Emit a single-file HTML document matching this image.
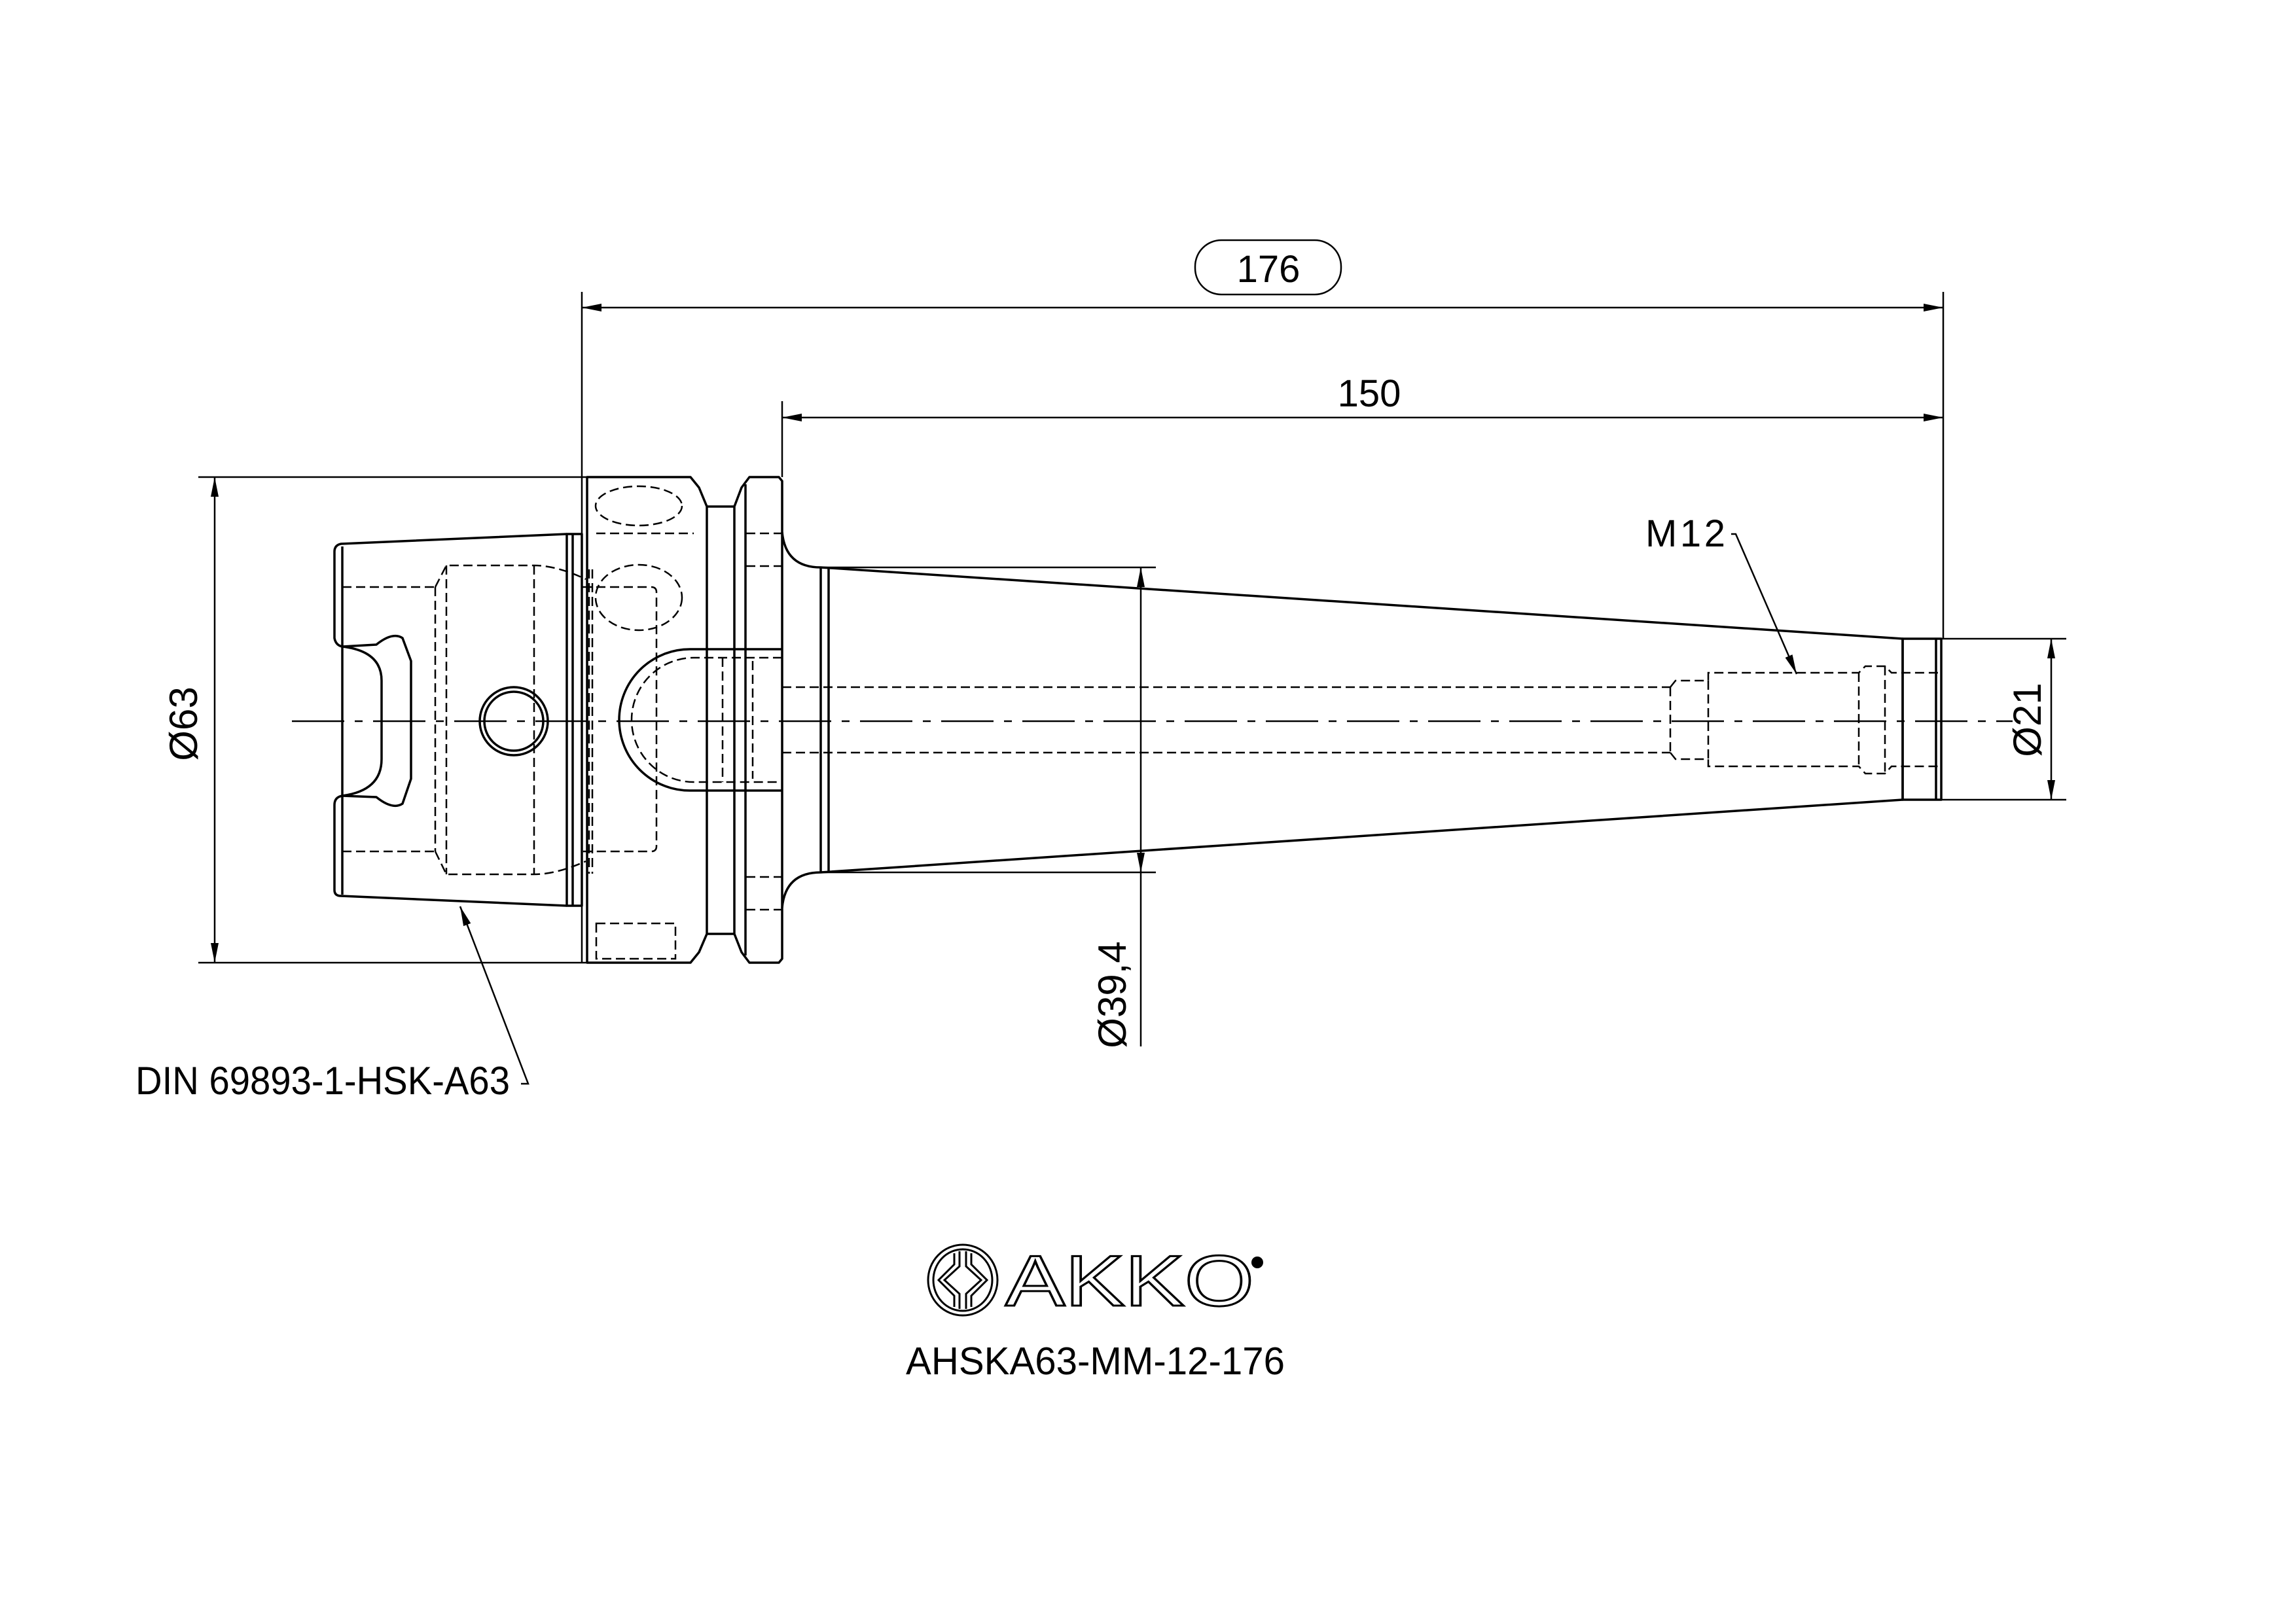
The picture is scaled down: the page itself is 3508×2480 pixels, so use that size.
<!DOCTYPE html>
<html><head><meta charset="utf-8"><style>
html,body{margin:0;padding:0;background:#fff}
svg{display:block}
text{font-family:"Liberation Sans",sans-serif;fill:#000}
</style></head><body>
<svg width="3508" height="2480" viewBox="0 0 3508 2480" xmlns="http://www.w3.org/2000/svg">
<defs>
<marker id="a" viewBox="0 0 30 12" refX="30" refY="6" markerWidth="30" markerHeight="12" markerUnits="userSpaceOnUse" orient="auto-start-reverse"><path d="M0,0 L30,6 L0,12 Z" fill="#000"/></marker>
</defs>
<rect width="3508" height="2480" fill="#fff"/>
<g fill="none" stroke="#000" stroke-width="2.5">
<!-- extension lines -->
<line x1="889" y1="446" x2="889" y2="1471"/>
<line x1="2969" y1="446" x2="2969" y2="976"/>
<line x1="1195" y1="613" x2="1195" y2="729"/>
<line x1="303" y1="729" x2="897" y2="729"/>
<line x1="303" y1="1471" x2="897" y2="1471"/>
<line x1="1254" y1="867" x2="1766" y2="867"/>
<line x1="1254" y1="1333" x2="1766" y2="1333"/>
<line x1="2966" y1="976" x2="3157" y2="976"/>
<line x1="2966" y1="1222" x2="3157" y2="1222"/>
<!-- dimension lines -->
<line x1="889" y1="470" x2="2969" y2="470" marker-start="url(#a)" marker-end="url(#a)"/>
<line x1="1195" y1="638" x2="2969" y2="638" marker-start="url(#a)" marker-end="url(#a)"/>
<line x1="328" y1="729" x2="328" y2="1471" marker-start="url(#a)" marker-end="url(#a)"/>
<line x1="1743" y1="867" x2="1743" y2="1333" marker-start="url(#a)" marker-end="url(#a)"/>
<line x1="1743" y1="1333" x2="1743" y2="1599"/>
<line x1="3134" y1="976" x2="3134" y2="1222" marker-start="url(#a)" marker-end="url(#a)"/>
<rect x="1826" y="367" width="223" height="83" rx="40"/>
<!-- leaders -->
<polyline points="796,1656 807,1656 703,1385" marker-end="url(#a)"/>
<polyline points="2645,816 2652,816 2745,1030" marker-end="url(#a)"/>
<!-- centerline -->
<line x1="446" y1="1102" x2="3075" y2="1102" stroke-dasharray="80 16 12 16"/>
</g>
<g fill="none" stroke="#000" stroke-width="3.5" stroke-linejoin="round">
<!-- HSK cone -->
<path d="M866 816 L521 831 Q511 833 511 843 L511 975 Q513 986 523 988 L575 985 Q600 965 615 975 L628 1010 L628 1190 L615 1228 Q600 1238 575 1218 L523 1216 Q511 1218 511 1230 L511 1360 Q511 1369 521 1369 L866 1384"/>
<path d="M523 988 Q583 995 583 1040 L583 1160 Q583 1208 523 1216"/>
<line x1="523" y1="835" x2="523" y2="1367"/>
<rect x="866" y="816" width="23" height="568"/>
<line x1="875" y1="816" x2="875" y2="1384"/>
<!-- flange 1 -->
<path d="M897 729 L1055 729 L1068 745 L1080 774 L1080 1427 L1068 1455 L1055 1471 L897 1471 Z"/>
<line x1="1080" y1="774" x2="1122" y2="774"/>
<line x1="1080" y1="1427" x2="1122" y2="1427"/>
<!-- flange 2 -->
<path d="M1122 774 L1133 745 L1145 729 L1190 729 L1195 735 L1195 1465 L1190 1471 L1145 1471 L1133 1455 L1122 1427 Z"/>
<line x1="1139" y1="740" x2="1139" y2="1460"/>
<!-- taper -->
<path d="M1195 813 Q1200 867 1254 867 L2907 976 L2907 1222 L1254 1333 Q1200 1333 1195 1387"/>
<line x1="1254" y1="867" x2="1254" y2="1333"/>
<line x1="1266" y1="868" x2="1266" y2="1332"/>
<rect x="2907" y="976" width="59" height="246"/>
<line x1="2958" y1="976" x2="2958" y2="1222"/>
<!-- bore -->
<path d="M1195 992 L1054 992 A108 108 0 0 0 1054 1208 L1195 1208"/>
<!-- hole -->
<circle cx="785" cy="1102" r="52"/>
<circle cx="785" cy="1102" r="45"/>
</g>
<g fill="none" stroke="#000" stroke-width="2.5" stroke-dasharray="14 7">
<line x1="523" y1="897" x2="665" y2="897"/>
<line x1="523" y1="1301" x2="665" y2="1301"/>
<path d="M665 897 L682 864 L816 864 Q850 864 895 885"/>
<path d="M665 1301 L682 1336 L816 1336 Q850 1336 895 1316"/>
<line x1="665" y1="897" x2="665" y2="1301"/>
<line x1="682" y1="864" x2="682" y2="1336"/>
<line x1="816" y1="864" x2="816" y2="1336"/>
<path d="M890 897 L995 897 Q1003 897 1003 905 L1003 1293 Q1003 1301 995 1301 L890 1301"/>
<line x1="900" y1="870" x2="900" y2="1335"/>
<line x1="905" y1="870" x2="905" y2="1335"/>
<ellipse cx="976" cy="773" rx="66" ry="30"/>
<ellipse cx="976" cy="913" rx="66" ry="50"/>
<path d="M911 815 L1060 815"/>
<path d="M1140 815 L1195 815"/><path d="M1140 865 L1195 865"/>
<path d="M1140 1340 L1195 1340"/><path d="M1140 1390 L1195 1390"/>
<rect x="911" y="1411" width="121" height="54"/>
<path d="M1195 1005 L1060 1005 A95 95 0 0 0 1060 1195 L1195 1195"/>
<line x1="1104" y1="1005" x2="1104" y2="1195"/>
<line x1="1150" y1="1010" x2="1150" y2="1190"/>
<line x1="1195" y1="1050" x2="2552" y2="1050"/>
<line x1="1195" y1="1150" x2="2552" y2="1150"/>
<path d="M2552 1050 L2560 1040 L2610 1040 L2610 1028 L2840 1028 L2850 1018 L2880 1018 L2890 1028 L2966 1028"/>
<path d="M2552 1150 L2560 1160 L2610 1160 L2610 1171 L2840 1171 L2850 1182 L2880 1182 L2890 1171 L2966 1171"/>
<line x1="2552" y1="1050" x2="2552" y2="1150"/>
<line x1="2610" y1="1040" x2="2610" y2="1160"/>
<line x1="2840" y1="1028" x2="2840" y2="1171"/>
<line x1="2880" y1="1018" x2="2880" y2="1182"/>
</g>
<!-- texts -->
<text x="1938" y="431" font-size="58" text-anchor="middle">176</text>
<text x="2092" y="621" font-size="58" text-anchor="middle">150</text>
<text x="2514" y="835" font-size="58" textLength="122">M12</text>
<text x="207" y="1672" font-size="60" textLength="572" lengthAdjust="spacingAndGlyphs">DIN 69893-1-HSK-A63</text>
<text transform="translate(301,1106) rotate(-90)" font-size="60" text-anchor="middle">Ø63</text>
<text transform="translate(1720,1520) rotate(-90)" font-size="60" text-anchor="middle">Ø39,4</text>
<text transform="translate(3118,1100) rotate(-90)" font-size="60" text-anchor="middle">Ø21</text>
<text x="1384" y="2100" font-size="59" textLength="579" lengthAdjust="spacingAndGlyphs">AHSKA63-MM-12-176</text>
<!-- logo -->
<g fill="none" stroke="#000" stroke-width="3">
<ellipse cx="1471" cy="1956" rx="53" ry="54"/>
<ellipse cx="1471" cy="1956" rx="45" ry="47"/>
<path d="M1466 1912 L1466 1935 L1443 1956 L1466 1977 L1466 2000"/>
<path d="M1476 1912 L1476 1935 L1499 1956 L1476 1977 L1476 2000"/>
<path d="M1458 1915 L1458 1932 L1434 1956 L1458 1980 L1458 1997"/>
<path d="M1484 1915 L1484 1932 L1508 1956 L1484 1980 L1484 1997"/>
</g>
<text x="1536" y="1995" font-size="110" textLength="380" lengthAdjust="spacingAndGlyphs" style="fill:#fff;stroke:#000;stroke-width:3">AKKO</text>
<circle cx="1921" cy="1929" r="9" fill="#000"/>
</svg>
</body></html>
